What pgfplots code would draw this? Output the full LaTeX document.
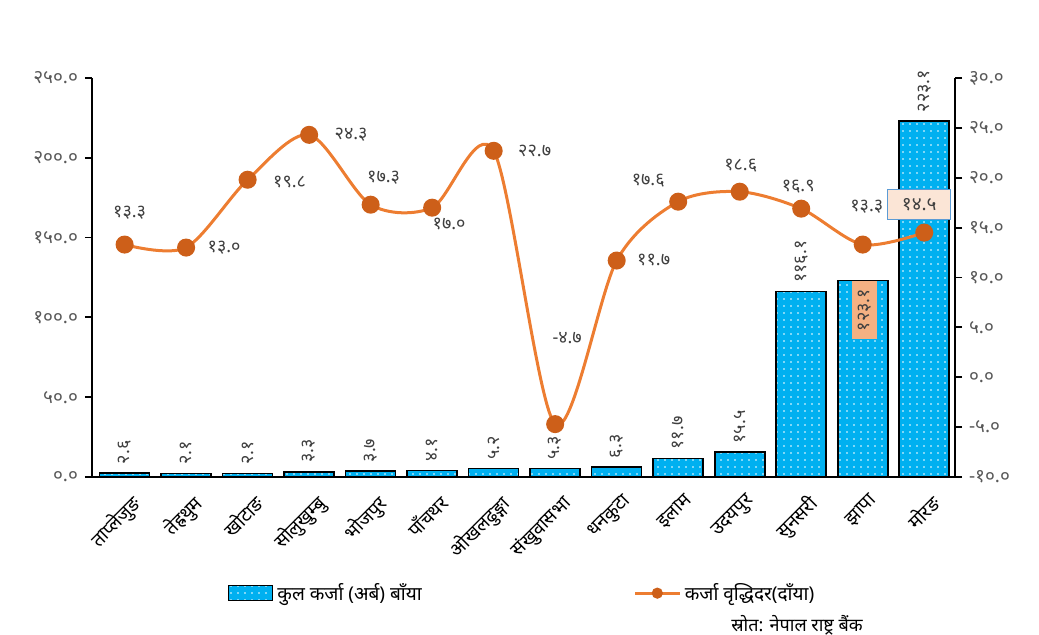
\documentclass[border=0pt]{standalone}
\usepackage{fontspec}
\setmainfont{Noto Sans}[Script=Devanagari]
\usepackage{pgfplots}
\usepackage{pgfplotstable}
\pgfplotsset{compat=1.18}
\usetikzlibrary{patterns,patterns.meta}
\definecolor{barblue}{RGB}{0,176,240}
\definecolor{lineorange}{RGB}{237,125,49}
\definecolor{markorange}{RGB}{205,95,25}
\definecolor{labgray}{RGB}{64,64,64}
\definecolor{tickgray}{RGB}{89,89,89}
\definecolor{peach}{RGB}{251,229,214}
\definecolor{jhapabox}{RGB}{244,177,131}
\definecolor{boxblue}{RGB}{91,155,213}

\pgfplotsset{
  barleg/.style={legend image code/.code={\draw[##1] (0pt,-3.75pt) rectangle (22pt,3.75pt);}},
  lineleg/.style={legend image code/.code={\draw[##1, mark size=2pt, mark repeat=2, mark phase=2] plot coordinates {(0pt,0pt) (11pt,0pt) (22pt,0pt)};}},
}

\pgfplotstableread{
x y lab
0 2.6 २.६
1 2.1 २.१
2 2.1 २.१
3 3.3 ३.३
4 3.7 ३.७
5 4.1 ४.१
6 5.2 ५.२
7 5.3 ५.३
8 6.3 ६.३
9 11.7 ११.७
10 15.5 १५.५
11 116.1 ११६.१
12 123.1 {}
13 223.1 २२३.१
}\bardata

\pgfplotstableread{
x y lab dx dy
0 13.3 १३.३ 2.5 16
1 13.0 १३.० 19 0
2 19.8 १९.८ 21 -1
3 24.3 २४.३ 21 0
4 17.3 १७.३ 6.5 13.5
5 17.0 १७.० 8.5 -8
6 22.7 २२.७ 20.5 0
7 -4.7 -४.७ 6 43
8 11.7 ११.७ 18.5 0
9 17.6 १७.६ -15 10.5
10 18.6 १८.६ 0.5 13
11 16.9 १६.९ -1.5 11
12 13.3 १३.३ 2 19
13 14.5 {} 0 0
}\linedata

\begin{document}
\begin{tikzpicture}
\begin{axis}[
  scale only axis, width=431.5pt, height=199.5pt,
  xmin=-0.53, xmax=13.5, ymin=0, ymax=250,
  axis y line*=left, axis x line*=bottom,
  axis line style={line width=0.9pt, black},
  ytick={0,50,...,250},
  yticklabels={०.०,५०.०,१००.०,१५०.०,२००.०,२५०.०},
  y tick label style={font=\fontsize{9.5}{11}\selectfont, text=tickgray},
  xtick={0,...,13},
  xticklabels={ताप्लेजुङ,तेह्रथुम,खोटाङ,सोलुखुम्बु,भोजपुर,पाँचथर,ओखलढुङ्गा,संखुवासभा,धनकुटा,इलाम,उदयपुर,सुनसरी,झापा,मोरङ},
  x tick label style={rotate=45, anchor=north east, font=\fontsize{9.5}{11}\selectfont, inner sep=1pt, yshift=-4pt},
  major x tick style={draw=none},
  tick align=outside, major tick length=3.5pt,
  tick style={line width=0.9pt, black},
  ybar, bar width=25pt, bar shift=0pt,
  clip=false,
]
\addplot[fill=barblue, draw=black, line width=0.8pt,
  postaction={pattern={Dots[distance=3.5pt,radius=0.45pt]}, pattern color=white},
  nodes near coords, point meta=explicit symbolic,
  every node near coord/.append style={rotate=90, anchor=west, inner sep=4pt,
     font=\fontsize{9}{10}\selectfont, text=labgray}]
  table[x=x, y=y, meta=lab]{\bardata};
\addplot[draw=none, fill=none,
  nodes near coords, point meta=explicit symbolic,
  every node near coord/.append style={rotate=90, anchor=east, fill=jhapabox,
     inner xsep=4pt, inner ysep=3pt, yshift=-1pt,
     font=\fontsize{9}{10}\selectfont, text=labgray}]
  table[meta=lab]{
x y lab
12 123.1 १२३.१
};
\end{axis}
\begin{axis}[
  scale only axis, width=431.5pt, height=199.5pt,
  xmin=-0.53, xmax=13.5, ymin=-10, ymax=30,
  axis y line*=right, axis x line=none,
  axis line style={line width=0.9pt, black},
  ytick={-10,-5,...,30},
  yticklabels={-१०.०,-५.०,०.०,५.०,१०.०,१५.०,२०.०,२५.०,३०.०},
  y tick label style={font=\fontsize{9.5}{11}\selectfont, text=tickgray},
  tick align=outside, major tick length=3.5pt,
  tick style={line width=0.9pt, black},
  clip=false,
  legend style={at={(0.15,-0.245)}, anchor=north west, draw=none, fill=none,
     legend columns=2, font=\fontsize{9.5}{11}\selectfont,
     /tikz/every even column/.append style={column sep=104pt},
     legend cell align=left},
]
\addlegendimage{fill=barblue, draw=black, line width=0.8pt,
  postaction={pattern={Dots[distance=3.5pt,radius=0.45pt]}, pattern color=white}, barleg}
\addlegendentry{कुल कर्जा (अर्ब) बाँया}
\addplot[smooth, color=lineorange, line width=1.5pt,
  mark=*, mark size=3.75pt, mark options={fill=markorange, draw=markorange},
  lineleg,
  nodes near coords, point meta=explicit symbolic,
  visualization depends on={\thisrow{dx}\as\dx},
  visualization depends on={\thisrow{dy}\as\dy},
  every node near coord/.append style={anchor=center, xshift=\dx pt, yshift=\dy pt,
     font=\fontsize{9}{10}\selectfont, text=labgray}]
  table[x=x, y=y, meta=lab]{\linedata};
\addlegendentry{कर्जा वृद्धिदर(दाँया)}
\addplot[draw=none, mark=none, forget plot,
  nodes near coords, point meta=explicit symbolic,
  every node near coord/.append style={anchor=center, xshift=-2.5pt, yshift=14pt,
     fill=peach, draw=boxblue, line width=0.6pt, inner xsep=7pt, inner ysep=4.5pt,
     font=\fontsize{9.5}{11}\selectfont, text=labgray}]
  table[meta=lab]{
x y lab
13 14.5 १४.५
};
\node[font=\fontsize{9}{10}\selectfont, anchor=center] at (rel axis cs:0.817,-0.371) {स्रोत: नेपाल राष्ट्र बैंक};
\end{axis}
\pgfresetboundingbox
\path[use as bounding box] (-46pt,-79pt) rectangle (473.5pt,238.5pt);
\end{tikzpicture}
\end{document}
